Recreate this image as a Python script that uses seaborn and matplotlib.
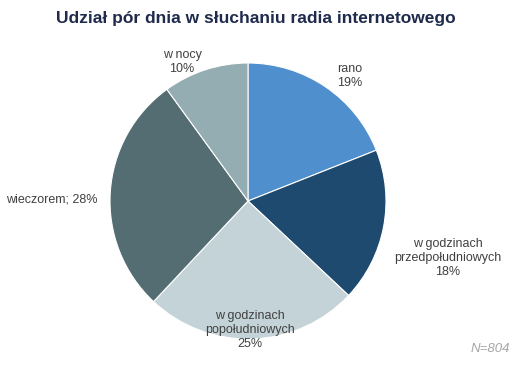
import matplotlib
matplotlib.use("Agg")
import matplotlib.pyplot as plt
import seaborn as sns

# dane
labels = ["rano", "w godzinach\nprzedpołudniowych", "w godzinach\npopołudniowych", "wieczorem", "w nocy"]
values = [19, 18, 25, 28, 10]
colors = ["#4f8fcd", "#1f4a70", "#c4d3d8", "#536d72", "#94adb2"]

sns.set_style("white")
plt.rcParams['font.family'] = ['Liberation Sans', 'DejaVu Sans']

fig = plt.figure(figsize=(5.19, 3.68), dpi=100)
ax = fig.add_axes([0, 0, 1, 1])

cx, cy, r = 248, 201, 138
def px(x, y):
    return (x - cx) / r, (cy - y) / r

ax.pie(values, colors=colors, startangle=90, counterclock=False, radius=1,
       wedgeprops=dict(edgecolor="white", linewidth=0.8))
ax.set_xlim(-cx / r, (519 - cx) / r)
ax.set_ylim((cy - 368) / r, cy / r)
ax.set_aspect("auto")
ax.axis("off")

# etykiety
label_pos = [(350, 76), (448, 258), (250, 330), (52, 200), (182, 62)]
txt_color = "#404040"
for i, (lab, v) in enumerate(zip(labels, values)):
    if lab == "wieczorem":
        s = f"{lab}; {v}%"
    else:
        s = f"{lab}\n{v}%"
    x, y = px(*label_pos[i])
    ax.text(x, y, s, ha="center", va="center", fontsize=9, color=txt_color, linespacing=1.2)

x, y = px(256, 18)
ax.text(x, y, "Udział pór dnia w słuchaniu radia internetowego", ha="center", va="center",
        fontsize=12.5, fontweight="bold", color="#1f2a4d")
x, y = px(490, 349)
ax.text(x, y, "N=804", ha="center", va="center", fontsize=9.5, style="italic", color="#a6a6a6")

fig.savefig("out.png", dpi=100)
